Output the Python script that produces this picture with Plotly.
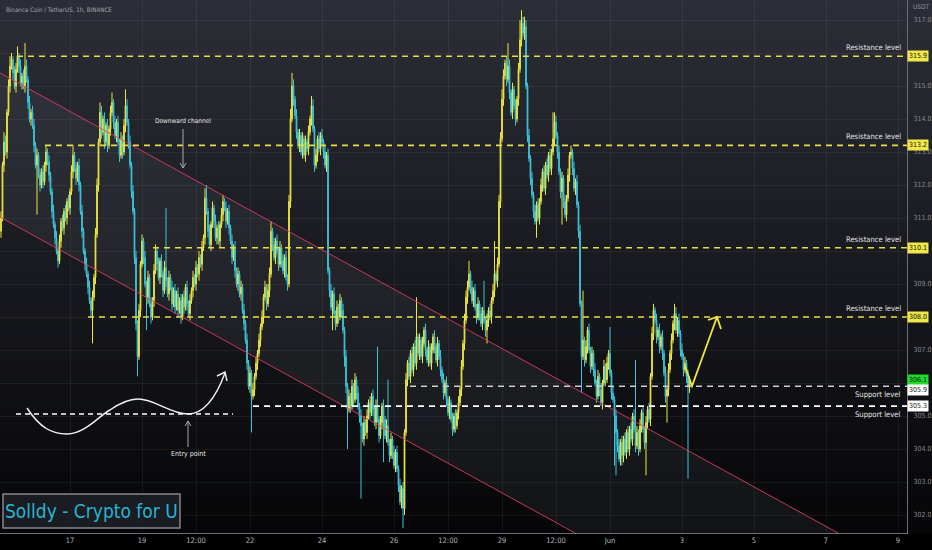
import pandas as pd
import plotly.graph_objects as go

# ---------------- data ----------------
start_time = "2022-05-15 02:00"
first_open = 310.6

close = [
    311.0, 312.6, 313.3, 313.0, 314.2, 315.0, 315.6, 315.8, 315.4, 315.0,
    315.5, 315.9, 315.6, 315.1, 315.3, 315.0, 315.6, 315.2, 314.5, 314.0,
    314.2, 313.8, 313.2, 312.6, 312.9, 312.3, 312.0, 312.4, 312.1, 312.6,
    313.0, 312.7, 312.3, 311.8, 311.2, 310.8, 310.4, 310.0, 309.7, 310.3,
    310.9, 310.7, 311.2, 311.0, 311.5, 311.3, 311.8, 312.4, 312.9, 312.5,
    312.2, 312.6, 312.0, 311.2, 310.6, 310.0, 309.6, 309.3, 308.9, 308.5,
    308.2, 308.6, 309.2, 310.5, 312.0, 313.3, 314.2, 313.6, 314.0, 313.3,
    313.8, 313.2, 313.7, 314.2, 314.5, 313.9, 313.5, 313.9, 313.3, 312.9,
    313.4, 313.0, 313.8, 314.4, 313.9, 313.3, 312.6, 311.8, 311.2, 309.8,
    307.8, 306.8, 308.2, 309.6, 310.3, 309.8, 309.0, 308.6, 309.2, 308.4,
    308.0, 308.5, 309.4, 310.0, 309.6, 309.2, 309.7, 309.3, 308.8, 309.5,
    309.1, 308.7, 309.2, 308.9, 308.4, 308.8, 308.3, 308.7, 308.2, 308.5,
    308.0, 308.6, 308.3, 308.9, 308.4, 308.1, 308.5, 308.8, 309.2, 309.0,
    309.5, 309.3, 309.8, 309.6, 310.1, 310.4, 311.6, 311.2, 310.6, 310.2,
    310.8, 311.3, 310.9, 310.4, 310.7, 310.3, 310.8, 311.1, 311.5, 311.3,
    310.9, 311.2, 310.7, 310.3, 309.8, 310.1, 309.4, 309.0, 309.3, 308.7,
    308.9, 308.2, 307.8, 307.3, 306.6, 305.9, 306.3, 305.6, 305.8, 306.2,
    306.6, 306.9, 307.3, 307.7, 308.0, 308.6, 308.9, 308.4, 308.8, 309.3,
    310.6, 310.2, 309.8, 310.3, 310.0, 309.6, 310.1, 309.7, 309.4, 309.8,
    309.2, 309.0, 311.5, 314.0, 315.0, 314.6, 314.1, 313.6, 313.2, 313.5,
    313.0, 313.4, 312.9, 313.3, 313.1, 313.6, 314.0, 314.4, 313.7, 312.6,
    312.9, 313.4, 313.1, 313.5, 313.3, 313.0, 312.6, 312.9, 309.4, 308.8,
    308.3, 308.7, 308.1, 307.8, 308.3, 308.0, 308.5, 308.2, 307.6, 306.8,
    305.9, 305.2, 305.6, 305.3, 305.9, 305.5, 306.1, 305.7, 305.3, 305.0,
    304.7, 304.3, 304.8, 304.5, 305.0, 305.4, 305.1, 305.6, 305.2, 304.8,
    305.3, 304.9, 304.4, 304.8, 305.3, 304.9, 304.4, 304.7, 304.2, 303.8,
    304.3, 303.9, 303.5, 303.9, 303.4, 302.9, 302.4, 302.8, 302.2, 304.5,
    306.1, 306.6, 306.2, 306.9, 306.4, 307.1, 306.6, 307.4, 306.9, 307.3,
    306.8, 307.2, 307.6, 307.0, 306.7, 307.1, 306.6, 307.0, 307.4, 307.1,
    306.7, 307.2, 306.8, 306.4, 306.1, 305.7, 306.0, 305.5, 305.1, 305.4,
    304.9, 304.6, 305.0, 304.7, 305.1, 305.4, 305.8, 306.5, 307.2, 307.9,
    308.6, 308.9, 309.3, 308.9, 308.5, 308.8, 308.3, 308.0, 308.4, 308.1,
    307.8, 308.2, 307.9, 307.6, 307.9, 308.2, 308.0, 308.5, 308.8, 309.3,
    309.1, 309.6, 311.5, 313.4, 314.6, 315.3, 315.7, 315.2, 315.6, 314.8,
    314.2, 314.9, 314.4, 314.0, 314.6, 315.5, 316.4, 316.9, 316.6, 316.8,
    315.0, 313.5, 312.8, 312.2, 311.7, 311.2, 310.9, 311.4, 311.0, 311.5,
    312.0, 312.4, 311.9, 312.6, 312.3, 312.9, 312.5, 313.0, 313.4, 313.9,
    313.5, 313.0, 312.4, 311.8, 312.2, 311.5, 311.1, 311.6, 312.3, 312.9,
    313.0, 312.5, 311.9, 312.1, 311.4, 310.6, 308.4, 306.8, 307.3, 306.7,
    307.1, 307.6, 307.0, 306.5, 306.9, 306.4, 306.0, 305.6, 306.2, 305.8,
    305.4, 306.0, 306.5, 306.1, 306.6, 306.9, 306.3, 305.7, 305.5, 305.0,
    304.5, 304.1, 303.7, 304.2, 303.8, 304.3, 303.9, 304.5, 304.0, 304.6,
    304.3, 305.0, 304.6, 304.1, 304.5, 304.0, 304.7, 305.1, 304.6, 304.2,
    304.8, 305.2, 304.9, 306.2, 307.5, 308.2, 307.9, 307.4, 307.6, 307.1,
    307.4, 306.9, 306.3, 305.6, 305.8, 306.4, 306.9, 307.3, 307.8, 308.1,
    307.6, 307.9, 307.5, 307.0, 306.8, 306.4, 306.6, 306.2, 305.9, 306.1,
]

# upper / lower wick lengths, in tenths of a dollar
wick_up = [
    2,1,3,2,1,2,3,2,1,2, 2,3,1,2,1,2,7,2,1,2,
    1,2,2,1,2,1,2,1,2,1, 2,1,2,1,1,2,1,2,1,2,
    1,2,1,2,1,2,1,2,3,1, 2,1,2,1,2,1,1,2,1,2,
    1,2,1,2,2,1,3,2,1,2, 1,2,1,2,3,1,2,1,2,1,
    2,1,2,5,2,1,2,1,2,1, 2,1,2,1,2,1,2,1,2,1,
    2,1,2,2,1,2,1,2,1,2, 18,1,2,1,2,1,2,1,2,1,
    2,1,2,1,2,1,2,1,2,1, 2,1,2,1,2,1,3,4,1,2,
    1,2,1,2,1,2,1,2,2,1, 2,1,2,1,2,1,2,1,2,1,
    2,1,2,1,2,1,2,1,2,1, 2,1,2,1,2,1,2,1,2,2,
    3,1,2,1,2,1,2,1,2,1, 2,1,2,3,4,2,1,2,1,2,
    1,2,1,2,1,2,1,3,2,1, 2,1,2,1,2,1,2,1,2,1,
    2,1,2,1,2,1,2,1,2,1, 2,1,2,1,2,1,2,1,2,1,
    2,1,2,1,2,1,2,1,2,1, 2,18,1,2,1,2,1,2,14,1,
    2,1,2,1,2,1,2,1,2,1, 2,1,2,1,2,1,2,12,1,2,
    1,2,1,2,1,2,1,2,1,2, 1,2,1,2,1,2,1,2,1,2,
    1,2,1,2,1,2,1,2,1,2, 2,2,4,1,2,1,2,1,2,1,
    2,1,9,1,2,1,2,1,2,10, 1,2,2,2,3,2,1,2,7,2,
    1,2,1,2,1,2,6,4,2,3, 2,1,2,1,2,1,2,1,2,1,
    2,1,2,1,2,1,2,1,8,3, 2,1,2,1,2,1,2,1,2,1,
    2,1,2,1,2,1,2,1,15,1, 2,1,2,1,2,1,2,1,2,1,
    2,1,2,1,2,1,8,1,2,1, 2,1,2,1,2,1,2,1,2,1,
    2,1,2,21,2,1,2,1,2,1, 2,1,2,1,2,2,1,2,1,2,
    1,2,1,2,1,2,1,2,1,3, 2,1,2,1,2,1,2,1,2,1,
]
wick_dn = [
    2,1,2,1,2,1,2,1,2,1, 2,1,2,1,2,1,2,1,2,1,
    2,1,2,1,15,1,2,1,2,1, 2,1,2,1,2,1,2,1,2,1,
    2,1,2,1,2,1,2,1,2,1, 2,1,2,1,2,1,2,1,2,1,
    2,10,1,2,1,2,1,2,1,2, 1,2,1,2,1,2,1,2,1,2,
    1,2,1,2,1,2,1,2,1,2, 2,6,1,2,1,2,1,10,2,1,
    2,1,2,1,2,1,2,1,2,1, 2,1,2,1,2,1,2,1,2,1,
    2,1,2,1,2,1,2,1,2,1, 2,1,2,1,2,1,2,1,2,1,
    2,1,2,1,2,1,2,1,2,1, 2,1,2,1,2,1,2,1,2,1,
    2,1,2,1,2,1,2,11,1,2, 1,2,1,2,1,2,1,2,1,2,
    1,2,1,2,1,2,1,2,1,2, 1,2,1,2,1,2,1,2,1,2,
    1,2,1,2,1,2,1,2,1,2, 1,2,1,2,1,2,1,2,1,2,
    1,7,1,2,1,2,1,2,1,3, 2,12,1,2,1,2,1,2,1,2,
    22,1,2,1,2,1,2,1,2,1, 2,1,2,1,2,13,1,2,1,2,
    1,2,1,2,1,2,1,2,6,2, 1,2,1,2,1,2,1,2,1,2,
    1,2,1,2,1,2,1,2,1,2, 1,2,1,2,1,2,1,2,1,2,
    1,2,1,2,1,2,1,2,1,2, 1,2,1,2,1,2,1,2,1,2,
    1,2,1,2,4,2,1,2,1,2, 1,2,1,2,1,2,1,2,1,2,
    1,2,1,2,1,2,1,2,1,2, 1,2,1,2,1,2,1,5,1,2,
    1,2,1,2,1,2,1,2,1,2, 1,2,1,2,10,2,1,2,1,2,
    1,2,1,2,1,2,1,11,1,2, 1,2,1,2,1,2,1,2,1,2,
    1,2,1,2,1,2,1,2,1,15, 13,2,1,2,3,2,1,2,1,2,
    1,2,1,2,1,2,1,2,1,2, 10,2,1,2,1,2,1,2,1,2,
    1,2,1,2,8,2,1,2,1,2, 1,2,1,2,1,2,1,2,28,2,
]

resistance_levels = [315.9, 313.2, 310.1, 308.0]
resistance_starts = ["2022-05-15 12:40", "2022-05-16 07:20", "2022-05-19 07:20", "2022-05-17 12:00"]
support_levels = [305.9, 305.3]
support_starts = ["2022-05-26 10:40", "2022-05-22 02:00"]
last_price = 306.1

x_tick_vals = ["2022-05-17", "2022-05-19", "2022-05-20 12:00", "2022-05-22", "2022-05-24",
               "2022-05-26", "2022-05-27 12:00", "2022-05-29", "2022-05-30 12:00",
               "2022-06-01", "2022-06-03", "2022-06-05", "2022-06-07", "2022-06-09"]
x_tick_text = ["17", "19", "12:00", "22", "24", "26", "12:00", "29", "12:00",
               "Jun", "3", "5", "7", "9"]
# price-axis ticks; the ones hidden behind the level boxes in the reference are left blank
y_tick_vals = [302, 303, 304, 305, 306, 307, 308, 309, 310, 311, 312, 313, 314, 315, 316, 317]
y_tick_text = ["302.0", "303.0", "304.0", "305.0", "", "307.0", "", "309.0", "", "311.0",
               "312.0", "313.0", "314.0", "315.0", "", "317.0"]

assert len(close) == len(wick_up) == len(wick_dn), (len(close), len(wick_up), len(wick_dn))

# ---------------- derived OHLC ----------------
times = pd.date_range(start_time, periods=len(close), freq="h")
opens = [first_open] + close[:-1]
highs = [max(o, c) + u / 10 for o, c, u in zip(opens, close, wick_up)]
lows = [min(o, c) - d / 10 for o, c, d in zip(opens, close, wick_dn)]

# ---------------- figure ----------------
W, H = 932, 550
PW, PH = 907, 533
X_RANGE = ["2022-05-15 01:20", "2022-06-09 06:00"]
Y_RANGE = [301.455, 317.606]
NARROW = "Liberation Sans Narrow, DejaVu Sans Condensed, Roboto Condensed, Arial Narrow, Liberation Sans, sans-serif"

UP = "#ece63f"
DN = "#3cc3dc"

def px(x):
    return x / PW

def py(y):
    return 1 - y / PH

fig = go.Figure()
fig.add_trace(go.Candlestick(
    x=times, open=opens, high=highs, low=lows, close=close,
    increasing=dict(line=dict(color=UP, width=1), fillcolor=UP),
    decreasing=dict(line=dict(color=DN, width=1), fillcolor=DN),
    showlegend=False, hoverinfo="skip",
))

shapes = []
# background gradient
bands = 60
for i in range(bands):
    t = (i + 0.5) / bands
    r = round(44 + (6 - 44) * t)
    g = round(46 + (6 - 46) * t)
    b = round(55 + (8 - 55) * t)
    shapes.append(dict(type="rect", xref="paper", yref="paper", x0=0, x1=W / PW,
                       y0=1 - (i + 1) / bands - 0.002, y1=1 - i / bands,
                       fillcolor=f"rgb({r},{g},{b})", line=dict(width=0), layer="below"))

# channel fill and lines
chan = f"M {px(0)} {py(73)} L {px(838)} {py(533)} L {px(575)} {py(533)} L {px(0)} {py(217)} Z"
shapes.append(dict(type="path", xref="paper", yref="paper", path=chan,
                   fillcolor="rgba(130,134,146,0.10)", line=dict(width=0), layer="between"))
for (xa, ya, xb, yb) in [(0, 73, 838, 533), (0, 217, 575, 533)]:
    shapes.append(dict(type="line", xref="paper", yref="paper", x0=px(xa), y0=py(ya),
                       x1=px(xb), y1=py(yb), line=dict(color="rgba(226,64,96,0.85)", width=1),
                       layer="above"))

# level lines
for lvl, st in zip(resistance_levels, resistance_starts):
    shapes.append(dict(type="line", xref="x", yref="y", x0=st, x1=X_RANGE[1], y0=lvl, y1=lvl,
                       line=dict(color="#e4df45", width=1.6, dash="6px,5px"), layer="above"))
for lvl, st, col in zip(support_levels, support_starts, ["#cfcfcf", "#ffffff"]):
    shapes.append(dict(type="line", xref="x", yref="y", x0=st, x1=X_RANGE[1], y0=lvl, y1=lvl,
                       line=dict(color=col, width=1.6, dash="6px,5px"), layer="above"))

# entry-point illustration
shapes.append(dict(type="line", xref="paper", yref="paper", x0=px(16), x1=px(233), y0=py(414), y1=py(414),
                   line=dict(color="#ffffff", width=1.4, dash="5px,4px"), layer="above"))
curve = (f"M {px(27)} {py(408)} C {px(40)} {py(428)}, {px(52)} {py(434)}, {px(67)} {py(434)} "
         f"C {px(85)} {py(434)}, {px(100)} {py(415)}, {px(110)} {py(410)} "
         f"C {px(120)} {py(403)}, {px(128)} {py(399)}, {px(138)} {py(399)} "
         f"C {px(155)} {py(399)}, {px(170)} {py(414)}, {px(188)} {py(414)} "
         f"C {px(203)} {py(414)}, {px(215)} {py(400)}, {px(225)} {py(373)}")
shapes.append(dict(type="path", xref="paper", yref="paper", path=curve,
                   line=dict(color="#f2f2f2", width=1.4), layer="above"))
head = f"M {px(217)} {py(376)} L {px(225)} {py(372)} L {px(227)} {py(381)}"
shapes.append(dict(type="path", xref="paper", yref="paper", path=head,
                   line=dict(color="#f2f2f2", width=1.4), layer="above"))

# small gray arrows
for (x, ya, yb, hd) in [(183, 129, 168, 1), (188, 447, 421, -1)]:
    shapes.append(dict(type="line", xref="paper", yref="paper", x0=px(x), x1=px(x), y0=py(ya), y1=py(yb),
                       line=dict(color="#a8a8ad", width=1), layer="above"))
    shapes.append(dict(type="path", xref="paper", yref="paper",
                       path=f"M {px(x-3)} {py(yb - 5*hd)} L {px(x)} {py(yb)} L {px(x+3)} {py(yb - 5*hd)}",
                       line=dict(color="#a8a8ad", width=1), layer="above"))

# yellow projection arrow
shapes.append(dict(type="path", xref="paper", yref="paper",
                   path=f"M {px(685)} {py(366)} L {px(692)} {py(386)} L {px(717)} {py(317)}",
                   line=dict(color="#f0e640", width=1.8), layer="above"))
shapes.append(dict(type="path", xref="paper", yref="paper",
                   path=f"M {px(708)} {py(320)} L {px(717)} {py(317)} L {px(721)} {py(329)}",
                   line=dict(color="#f0e640", width=1.8), layer="above"))

# watermark box
shapes.append(dict(type="rect", xref="paper", yref="paper", x0=px(3), x1=px(180), y0=py(528), y1=py(494),
                   fillcolor="rgba(28,30,36,0.92)", line=dict(color="#85868c", width=1.5), layer="above"))

annotations = []
annotations.append(dict(xref="paper", yref="paper", x=px(4), y=py(10), xanchor="left", yanchor="middle",
                        text="Binance Coin / TetherUS, 1h, BINANCE", showarrow=False,
                        font=dict(family=NARROW, size=6.2, color="#a3a5ad")))
annotations.append(dict(xref="paper", yref="paper", x=px(911), y=py(7), xanchor="left", yanchor="middle",
                        text="USDT", showarrow=False, font=dict(family=NARROW, size=6.5, color="#8d9098")))
annotations.append(dict(xref="paper", yref="paper", x=px(183), y=py(121), xanchor="center", yanchor="middle",
                        text="Downward channel", showarrow=False,
                        font=dict(family=NARROW, size=6.5, color="#e6e6e6")))
annotations.append(dict(xref="paper", yref="paper", x=px(188), y=py(454), xanchor="center", yanchor="middle",
                        text="Entry point", showarrow=False,
                        font=dict(family=NARROW, size=7, color="#e6e6e6")))
annotations.append(dict(xref="paper", yref="paper", x=px(91), y=py(511), xanchor="center", yanchor="middle",
                        text="Solldy - Crypto for U", showarrow=False,
                        font=dict(family=NARROW, size=19, color="#27b4d3")))

for lvl in resistance_levels:
    annotations.append(dict(xref="paper", yref="y", x=px(903), y=lvl, xanchor="right", yanchor="bottom",
                            yshift=2, text="Resistance level", showarrow=False,
                            font=dict(family=NARROW, size=7.6, color="#e2e2e2")))
    annotations.append(dict(xref="paper", yref="y", x=1.0, y=lvl, xanchor="left", yanchor="middle",
                            text=f"{lvl:.1f}", showarrow=False, bgcolor="#f2e84a", borderpad=1,
                            font=dict(family=NARROW, size=7, color="#111111")))
for lvl in support_levels:
    annotations.append(dict(xref="paper", yref="y", x=px(903), y=lvl, xanchor="right", yanchor="top",
                            yshift=-2, text="Support level", showarrow=False,
                            font=dict(family=NARROW, size=7.6, color="#e2e2e2")))
annotations.append(dict(xref="paper", yref="y", x=1.0, y=last_price, xanchor="left", yanchor="middle",
                        text=f"{last_price:.1f}", showarrow=False, bgcolor="#1fdc2a", borderpad=1,
                        font=dict(family=NARROW, size=7, color="#0a0a0a")))
for lvl, ys in zip(support_levels, [-4, 0]):
    annotations.append(dict(xref="paper", yref="y", x=1.0, y=lvl, xanchor="left", yanchor="middle",
                            yshift=ys, text=f"{lvl:.1f}", showarrow=False, bgcolor="#ffffff", borderpad=1,
                            font=dict(family=NARROW, size=7, color="#222222")))

fig.update_layout(
    width=W, height=H,
    margin=dict(l=0, r=W - PW, t=0, b=H - PH, pad=0),
    paper_bgcolor="#000000", plot_bgcolor="rgba(0,0,0,0)",
    shapes=shapes, annotations=annotations, showlegend=False,
    xaxis=dict(type="date", range=X_RANGE, rangeslider=dict(visible=False),
               tickvals=x_tick_vals, ticktext=x_tick_text, ticks="",
               tickfont=dict(family=NARROW, size=7.5, color="#b4b6bc"),
               showgrid=True, gridcolor="rgba(255,255,255,0.055)", gridwidth=1,
               showline=True, linecolor="#6a6c72", linewidth=1, zeroline=False, fixedrange=True),
    yaxis=dict(range=Y_RANGE, side="right", tickvals=y_tick_vals, ticktext=y_tick_text, ticks="",
               ticklabelstandoff=4,
               tickfont=dict(family=NARROW, size=7, color="#868991"),
               showgrid=True, gridcolor="rgba(255,255,255,0.055)", gridwidth=1,
               showline=True, linecolor="#6a6c72", linewidth=1, zeroline=False, fixedrange=True),
)

fig.write_html("out.html", config={"displayModeBar": False},
               post_script="document.body.style.margin='0px';document.body.style.background='#000';")
